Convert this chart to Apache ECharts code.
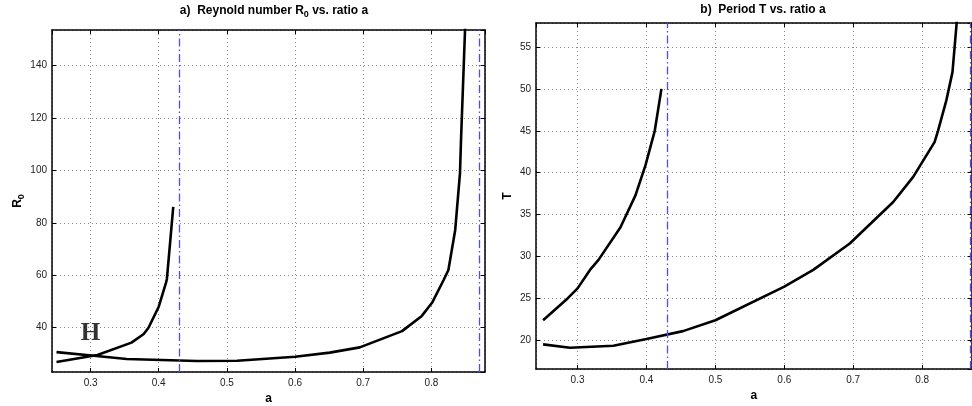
<!DOCTYPE html>
<html>
<head>
<meta charset="utf-8">
<script src="https://cdn.jsdelivr.net/npm/echarts@6/dist/echarts.min.js"></script>
<style>
  html, body { margin: 0; padding: 0; background: #fff; }
  #box { width: 972px; height: 406px; }
</style>
</head>
<body>
<div id="box"></div>
<script>
// a) Reynold number R0 vs. ratio a
var r0LowA = [0.25, 0.31, 0.36, 0.378, 0.385, 0.40, 0.4105, 0.412, 0.4213];
var r0LowV = [26.9, 29.6, 34.3, 37.6, 40.0, 48.0, 57.0, 58.6, 86.1];
var r0HighA = [0.25, 0.305, 0.353, 0.456, 0.515, 0.60, 0.651, 0.695, 0.757, 0.786, 0.801, 0.818, 0.825, 0.835, 0.842, 0.8435, 0.8494, 0.851];
var r0HighV = [30.7, 29.3, 28.05, 27.3, 27.4, 28.9, 30.5, 32.5, 38.7, 44.5, 49.5, 58.2, 62.0, 77.3, 99.0, 111.5, 153.6, 165];

// b) Period T vs. ratio a
var tLowA = [0.25, 0.2855, 0.30, 0.318, 0.3304, 0.3623, 0.384, 0.3986, 0.412, 0.4217];
var tLowV = [22.4, 25.0, 26.2, 28.4, 29.6, 33.5, 37.3, 40.9, 45.0, 50.0];
var tHighA = [0.25, 0.289, 0.352, 0.40, 0.453, 0.50, 0.60, 0.642, 0.695, 0.758, 0.787, 0.818, 0.823, 0.835, 0.844, 0.85, 0.852];
var tHighV = [19.52, 19.12, 19.36, 20.15, 21.1, 22.4, 26.4, 28.4, 31.55, 36.5, 39.5, 43.65, 45.0, 48.6, 52.0, 57.8, 60];

// dashed reference lines
var limitA = [0.433, 0.866];
// "H" marker
var hMark = [0.3, 37.6];

var xRangeL = [0.2434, 0.8787], yRangeL = [23.1, 153.6];
var xRangeR = [0.2397, 0.8716], yRangeR = [16.58, 57.86];

function zip(xs, ys) {
    return xs.map(function (x, i) { return [x, ys[i]]; });
}

var FONT = 'Liberation Sans';
var gridLine = { show: true, lineStyle: { color: '#888', type: [1, 3], width: 1 } };

function mainX(grid, range) {
    return {
        type: 'value', gridIndex: grid, min: range[0], max: range[1], splitNumber: 6,
        name: 'a', nameLocation: 'middle', nameGap: 19,
        nameTextStyle: { fontFamily: FONT, fontWeight: 'bold', fontSize: 12, color: '#000' },
        axisLine: { onZero: false, lineStyle: { color: '#000', width: 1.5 } },
        axisTick: { inside: true, length: 4, lineStyle: { color: '#000' } },
        axisLabel: {
            fontFamily: FONT, fontSize: 10, color: '#222', margin: 6,
            showMinLabel: false, showMaxLabel: false
        },
        splitLine: gridLine
    };
}
function mainY(grid, range, split, name, gap) {
    return {
        type: 'value', gridIndex: grid, min: range[0], max: range[1], splitNumber: split,
        name: name, nameLocation: 'middle', nameGap: gap, nameRotate: 90,
        nameTextStyle: {
            fontFamily: FONT, fontWeight: 'bold', fontSize: 12, color: '#000',
            rich: { sub: { fontFamily: FONT, fontWeight: 'bold', fontSize: 9, color: '#000', padding: [8, 0, 0, 0] } }
        },
        axisLine: { onZero: false, lineStyle: { color: '#000', width: 1.5 } },
        axisTick: { inside: true, length: 4, lineStyle: { color: '#000' } },
        axisLabel: {
            fontFamily: FONT, fontSize: 10, color: '#222', margin: 5,
            showMinLabel: false, showMaxLabel: false
        },
        splitLine: gridLine
    };
}
function sideAxis(grid, range, split, pos) {
    return {
        type: 'value', gridIndex: grid, min: range[0], max: range[1], splitNumber: split,
        position: pos,
        axisLine: { onZero: false, lineStyle: { color: '#000', width: 1.5 } },
        axisTick: { inside: true, length: 4, lineStyle: { color: '#000' } },
        axisLabel: { show: false },
        splitLine: { show: false }
    };
}

var curveStyle = { color: '#000', width: 2.6 };

function limitLines() {
    return {
        silent: true, symbol: 'none', label: { show: false },
        lineStyle: { color: '#4d4dff', width: 1.3, type: [8, 3, 1.5, 3], opacity: 1 },
        emphasis: { disabled: true },
        data: limitA.map(function (v) { return { xAxis: v }; })
    };
}

var myChart = echarts.init(document.getElementById('box'));
var option = {
    animation: false,
    backgroundColor: '#fff',
    title: [{
        text: 'a)  Reynold number R{sub|0} vs. ratio a',
        left: 269, top: -3, textAlign: 'center',
        textStyle: {
            fontFamily: FONT, fontWeight: 'bold', fontSize: 12, color: '#000',
            rich: { sub: { fontFamily: FONT, fontWeight: 'bold', fontSize: 9, color: '#000', padding: [8, 0, 0, 0] } }
        }
    }, {
        text: 'b)  Period T vs. ratio a',
        left: 758, top: -1, textAlign: 'center',
        textStyle: { fontFamily: FONT, fontWeight: 'bold', fontSize: 12, color: '#000' }
    }],
    grid: [
        { left: 52, top: 30, width: 433, height: 342, outerBoundsMode: 'none', containLabel: false },
        { left: 536, top: 23, width: 435.5, height: 346, outerBoundsMode: 'none', containLabel: false }
    ],
    xAxis: [
        mainX(0, xRangeL),
        sideAxis(0, xRangeL, 6, 'top'),
        mainX(1, xRangeR),
        sideAxis(1, xRangeR, 6, 'top')
    ],
    yAxis: [
        mainY(0, yRangeL, 7, 'R{sub|0}', 26),
        sideAxis(0, yRangeL, 7, 'right'),
        mainY(1, yRangeR, 8, 'T', 22),
        sideAxis(1, yRangeR, 8, 'right')
    ],
    series: [{
        type: 'line', xAxisIndex: 0, yAxisIndex: 0, symbol: 'none', clip: true,
        lineStyle: curveStyle, data: zip(r0LowA, r0LowV)
    }, {
        type: 'line', xAxisIndex: 0, yAxisIndex: 0, symbol: 'none', clip: true,
        lineStyle: curveStyle, data: zip(r0HighA, r0HighV),
        markLine: limitLines()
    }, {
        type: 'scatter', xAxisIndex: 0, yAxisIndex: 0, symbolSize: 0, silent: true,
        data: [hMark],
        label: {
            show: true, position: 'inside', formatter: 'H',
            fontFamily: 'Liberation Serif', fontWeight: 'bold', fontSize: 25, color: '#000'
        }
    }, {
        type: 'line', xAxisIndex: 2, yAxisIndex: 2, symbol: 'none', clip: true,
        lineStyle: curveStyle, data: zip(tLowA, tLowV)
    }, {
        type: 'line', xAxisIndex: 2, yAxisIndex: 2, symbol: 'none', clip: true,
        lineStyle: curveStyle, data: zip(tHighA, tHighV),
        markLine: limitLines()
    }]
};
myChart.setOption(option);
</script>
</body>
</html>
